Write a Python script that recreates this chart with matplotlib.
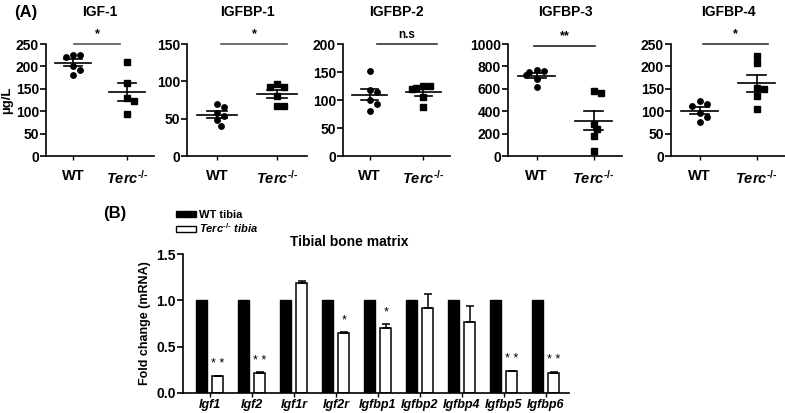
import numpy as np
import matplotlib.pyplot as plt
from matplotlib.patches import Patch

plt.rcParams['font.family'] = ['Liberation Sans', 'DejaVu Sans']
plt.rcParams['font.weight'] = 'bold'
plt.rcParams['mathtext.fontset'] = 'custom'
plt.rcParams['mathtext.rm'] = 'Liberation Sans:bold'
plt.rcParams['mathtext.it'] = 'Liberation Sans:bold:italic'
plt.rcParams['axes.linewidth'] = 1.2

# ---- data, panel A (serum levels) ----
groups = ['WT', '$\\it{Terc}^{\u2010/\u2010}$']
titles = ['IGF-1', 'IGFBP-1', 'IGFBP-2', 'IGFBP-3', 'IGFBP-4']
wt_vals = [
    [225, 222, 226, 200, 193, 181],
    [70, 65, 57, 53, 48, 40],
    [152, 118, 115, 100, 92, 80],
    [765, 750, 755, 720, 690, 615],
    [122, 115, 112, 95, 88, 75],
]
terc_vals = [
    [210, 163, 130, 122, 93],
    [97, 92, 93, 80, 67, 67],
    [125, 122, 120, 125, 105, 87],
    [580, 560, 290, 245, 180, 45],
    [223, 208, 152, 150, 135, 105],
]
ymax = [250, 150, 200, 1000, 250]
ystep = [50, 50, 50, 200, 50]
sig = ['*', '*', 'n.s', '**', '*']

# ---- data, panel B (tibial mRNA) ----
genes = ['Igf1', 'Igf2', 'Igf1r', 'Igf2r', 'Igfbp1', 'Igfbp2', 'Igfbp4', 'Igfbp5', 'Igfbp6']
wt_fold = [1, 1, 1, 1, 1, 1, 1, 1, 1]
terc_fold = [0.18, 0.22, 1.19, 0.65, 0.70, 0.92, 0.77, 0.24, 0.22]
terc_err = [0.005, 0.005, 0.015, 0.01, 0.04, 0.15, 0.17, 0.0, 0.01]
gene_sig = ['* *', '* *', '', '*', '*', '', '', '* *', '* *']

# layout (pixels of a 785x413 figure)
W, H = 785, 413
panel_left = [46, 187, 343, 508, 671]
panel_width = [108, 120, 107, 114, 114]
sig_span = [(0.02, 0.87), (0.07, 1.17), (0.13, 1.25), (-0.04, 1.02), (0.07, 1.2)]
sig_color = ['#555555', '#555555', '#333333', '#222222', '#333333']


def swarm(vals, top, unit_px, h_px=112, size=6.0):
    # simple beeswarm: spread points that would overlap
    order = np.argsort(vals)[::-1]
    placed = []
    xs = np.zeros(len(vals))
    for i in order:
        y = vals[i] * h_px / top
        for k in [0, 1, -1, 2, -2, 3, -3]:
            x = k * size * 0.6
            if all(np.hypot(x - px, y - py) >= size for px, py in placed):
                break
        placed.append((x, y))
        xs[i] = x / unit_px
    return xs


fig = plt.figure(figsize=(W / 100, H / 100), dpi=100)

for i in range(5):
    ax = fig.add_axes([panel_left[i] / W, 1 - 156 / H, panel_width[i] / W, 112 / H])
    unit = panel_width[i] / 2.0
    for g, (vals, mk) in enumerate([(wt_vals[i], 'o'), (terc_vals[i], 's')]):
        v = np.array(vals, dtype=float)
        xs = g + swarm(v, ymax[i], unit)
        ax.plot(xs, v, mk, color='black', markersize=3.9, clip_on=False, zorder=3)
        m = v.mean()
        se = v.std(ddof=1) / np.sqrt(len(v))
        ax.plot([g - 0.33, g + 0.33], [m, m], color='black', lw=1.2)
        ax.plot([g - 0.16, g + 0.16], [m - se, m - se], color='black', lw=1.2)
        ax.plot([g - 0.16, g + 0.16], [m + se, m + se], color='black', lw=1.2)
        ax.plot([g, g], [m - se, m + se], color='black', lw=1.2)
    ax.set_xlim(-0.5, 1.5)
    ax.set_ylim(0, ymax[i])
    ax.set_yticks(np.arange(0, ymax[i] + 1, ystep[i]))
    ax.set_xticks([0, 1])
    ax.set_xticklabels(groups, fontsize=10.5, fontweight='bold')
    ax.tick_params(axis='x', length=3, width=1, pad=6)
    ax.tick_params(axis='y', length=4, width=1.2, labelsize=10, pad=1)
    for lab in ax.get_yticklabels():
        lab.set_fontweight('bold')
    ax.spines['top'].set_visible(False)
    ax.spines['right'].set_visible(False)
    ax.set_title(titles[i], fontsize=10, fontweight='bold', pad=20)
    yl = ymax[i] * (0.985 if i == 3 else 1.0)
    ax.plot(sig_span[i], [yl, yl], color=sig_color[i], lw=1.2, clip_on=False)
    ax.text(np.mean(sig_span[i]), yl + ymax[i] * 0.03, sig[i], ha='center', va='bottom',
            fontsize=9 if sig[i] != 'n.s' else 8.5, fontweight='bold')
    if i == 0:
        ax.set_ylabel('µg/L', fontsize=9.5, fontweight='bold', labelpad=2)

fig.text(14 / W, 1 - 13 / H, '(A)', fontsize=12, fontweight='bold', va='center')
fig.text(103 / W, 1 - 213 / H, '(B)', fontsize=12, fontweight='bold', va='center')

# ---- panel B ----
axb = fig.add_axes([183 / W, 1 - 393 / H, 386 / W, 139 / H])
x = np.arange(len(genes))
bw = 0.26
axb.bar(x - 0.19, wt_fold, width=bw, color='black', edgecolor='black', lw=1, zorder=2)
axb.bar(x + 0.19, terc_fold, width=bw, color='white', edgecolor='black', lw=1.1, zorder=2)
axb.errorbar(x + 0.19, terc_fold, yerr=[np.zeros(len(genes)), terc_err], fmt='none',
             ecolor='black', elinewidth=1.1, capsize=3, capthick=1.1, zorder=3)
for xi, h, e, s in zip(x, terc_fold, terc_err, gene_sig):
    if s:
        axb.text(xi + 0.19, h + e + 0.06, s, ha='center', va='bottom',
                 fontsize=9, fontweight='normal')
axb.set_xlim(-0.64, 8.55)
axb.set_ylim(0, 1.5)
axb.set_yticks([0, 0.5, 1.0, 1.5])
axb.set_yticklabels(['0.0', '0.5', '1.0', '1.5'], fontsize=10, fontweight='bold')
axb.set_xticks(x)
axb.set_xticklabels(genes, fontsize=9, fontweight='bold', fontstyle='italic')
axb.tick_params(axis='x', length=3, width=1, pad=1)
axb.tick_params(axis='y', length=4, width=1.2, pad=1)
axb.spines['top'].set_visible(False)
axb.spines['right'].set_visible(False)
axb.set_ylabel('Fold change (mRNA)', fontsize=9, fontweight='bold', labelpad=4)
fig.text(349 / W, 1 - 242 / H, 'Tibial bone matrix', fontsize=10, fontweight='bold',
         ha='center', va='center')

handles = [Patch(facecolor='black', edgecolor='black'),
           Patch(facecolor='white', edgecolor='black')]
labels = ['WT tibia', '$\\it{Terc}^{\u2010/\u2010}\\ \\it{tibia}$']
fig.legend(handles, labels, loc='upper left', bbox_to_anchor=(170 / W, 1 - 204 / H),
           frameon=False, fontsize=8, handlelength=1.8, handleheight=0.45,
           handletextpad=0.3, labelspacing=0.15, borderpad=0)

fig.savefig('out.png', dpi=100)
